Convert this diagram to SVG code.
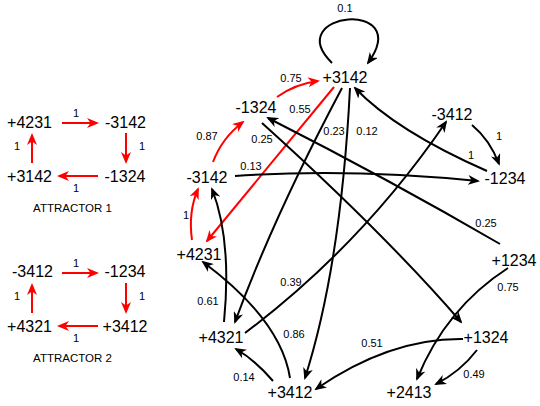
<svg xmlns="http://www.w3.org/2000/svg" width="540" height="406" viewBox="0 0 540 406">
<style>
text{font-family:"Liberation Sans",Arial,sans-serif;fill:#000}
.n{font-size:16px;text-anchor:middle}
.l{font-size:11px;text-anchor:middle}
.t{font-size:11.5px;text-anchor:middle}
.e{fill:none;stroke:#000;stroke-width:2;marker-end:url(#ab)}
.r{fill:none;stroke:#f00;stroke-width:2;marker-end:url(#ar)}
</style>
<defs>
<marker id="ab" viewBox="0 0 12 10" refX="10" refY="5" markerWidth="12" markerHeight="10" markerUnits="userSpaceOnUse" orient="auto"><path d="M0,0 L12,5 L0,10 L3.5,5 Z" fill="#000"/></marker>
<marker id="ar" viewBox="0 0 12 10" refX="10" refY="5" markerWidth="12" markerHeight="10" markerUnits="userSpaceOnUse" orient="auto"><path d="M0,0 L12,5 L0,10 L3.5,5 Z" fill="#f00"/></marker>
</defs>
<g id="attractor1">
<text class="n" x="29.5" y="128">+4231</text>
<text class="n" x="125.5" y="128">-3142</text>
<text class="n" x="29.5" y="182">+3142</text>
<text class="n" x="125" y="182">-1324</text>
<text class="t" x="72.5" y="212">ATTRACTOR 1</text>
<path class="r" d="M62,123 L97,123"/>
<path class="r" d="M126,133 L126,162"/>
<path class="r" d="M98,176 L59,176"/>
<path class="r" d="M32,163 L32,135"/>
<text class="l" x="76" y="117">1</text>
<text class="l" x="142" y="150">1</text>
<text class="l" x="17" y="150">1</text>
<text class="l" x="76" y="192">1</text>
</g>
<g id="attractor2">
<text class="n" x="32.5" y="277">-3412</text>
<text class="n" x="125" y="277">-1234</text>
<text class="n" x="29.5" y="332">+4321</text>
<text class="n" x="125" y="332">+3412</text>
<text class="t" x="72.5" y="362">ATTRACTOR 2</text>
<path class="r" d="M62,273 L97,273"/>
<path class="r" d="M126,283 L126,312"/>
<path class="r" d="M98,326 L59,326"/>
<path class="r" d="M32,313 L32,285"/>
<text class="l" x="76" y="267">1</text>
<text class="l" x="142" y="300">1</text>
<text class="l" x="17" y="300">1</text>
<text class="l" x="76" y="342">1</text>
</g>
<g id="connectors">
<path class="e" d="M332,63 C280,12 415,-2 368,63"/>
<path class="r" d="M277,97 Q295,84 318,81"/>
<path class="r" d="M334,87 L207,241"/>
<path class="r" d="M213,162 Q222,138 243,122"/>
<path class="r" d="M192,240 Q188,212 198,189"/>
<path class="e" d="M235,176 Q350,168 478,181"/>
<path class="e" d="M487,171 Q396,131 355,88"/>
<path class="e" d="M500,244 Q390,180 268,118"/>
<path class="e" d="M472,125 Q490,140 499,164"/>
<path class="e" d="M245,333 Q362,245 446,122"/>
<path class="e" d="M342,88 Q274,216 235,322"/>
<path class="e" d="M350,88 Q341,265 305,378"/>
<path class="e" d="M224,322 Q232,240 212,189"/>
<path class="e" d="M290,378 Q281,320 203,262"/>
<path class="e" d="M273,381 Q255,360 236,349"/>
<path class="e" d="M463,339 Q390,338 316,389"/>
<path class="e" d="M508,268 Q446,308 417,379"/>
<path class="e" d="M477,350 Q460,372 436,384"/>
<path class="e" d="M262,123 Q386,235 461,322"/>
</g>
<g id="edge-labels">
<text class="l" x="345" y="12">0.1</text>
<text class="l" x="291" y="82">0.75</text>
<text class="l" x="300" y="113">0.55</text>
<text class="l" x="207" y="140">0.87</text>
<text class="l" x="262" y="143">0.25</text>
<text class="l" x="251" y="170">0.13</text>
<text class="l" x="334" y="135">0.23</text>
<text class="l" x="367" y="135">0.12</text>
<text class="l" x="499" y="140">1</text>
<text class="l" x="471" y="159">1</text>
<text class="l" x="486" y="227">0.25</text>
<text class="l" x="186" y="219">1</text>
<text class="l" x="208" y="305">0.61</text>
<text class="l" x="291" y="286">0.39</text>
<text class="l" x="294" y="338">0.86</text>
<text class="l" x="244" y="381">0.14</text>
<text class="l" x="372" y="347">0.51</text>
<text class="l" x="508" y="291">0.75</text>
<text class="l" x="474" y="378">0.49</text>
</g>
<g id="node-p3142"><text class="n" x="345" y="83">+3142</text></g>
<g id="node-m1324"><text class="n" x="256" y="113">-1324</text></g>
<g id="node-m3412"><text class="n" x="452" y="120">-3412</text></g>
<g id="node-m1234"><text class="n" x="505" y="184">-1234</text></g>
<g id="node-m3142"><text class="n" x="207" y="183">-3142</text></g>
<g id="node-p4231"><text class="n" x="199" y="260">+4231</text></g>
<g id="node-p4321"><text class="n" x="221" y="343">+4321</text></g>
<g id="node-p3412"><text class="n" x="290" y="398">+3412</text></g>
<g id="node-p1234"><text class="n" x="514" y="266">+1234</text></g>
<g id="node-p1324"><text class="n" x="486" y="343">+1324</text></g>
<g id="node-p2413"><text class="n" x="409" y="398">+2413</text></g>
</svg>
